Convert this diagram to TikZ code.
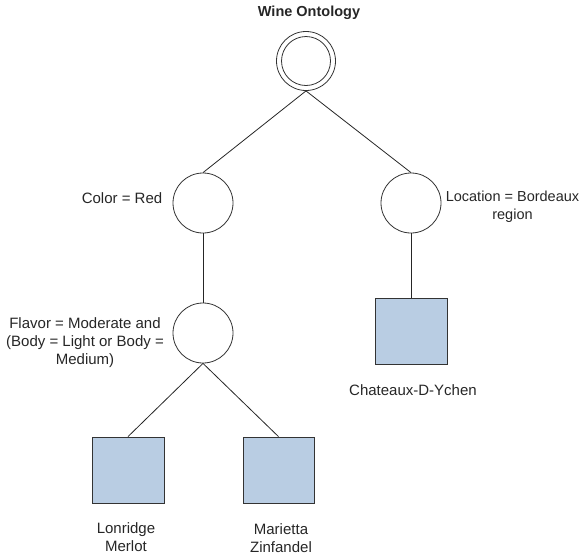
\documentclass[tikz,border=0pt]{standalone}
\usepackage{fontspec}
\setmainfont{Liberation Sans}
\begin{document}
\begin{tikzpicture}[x=1pt,y=-1pt,
  every node/.style={font=\fontsize{15}{18}\selectfont, text=black!85},
  link/.style={draw=black!85, line width=0.8pt},
  decision/.style={circle, draw=black!80, line width=0.8pt, fill=white, minimum size=60pt, inner sep=0pt},
  leaf/.style={rectangle, draw=black!80, line width=0.8pt, fill=leafblue, minimum width=72pt, minimum height=66pt, inner sep=0pt},
  caption/.style={align=center, inner sep=0pt}]
  \definecolor{leafblue}{HTML}{B9CDE3}
  \useasboundingbox (0,0) rectangle (581,558);

  % title and root of the tree
  \node[font=\fontsize{14.5}{18}\selectfont\bfseries, inner sep=0pt] (title) at (309,13) {Wine Ontology};
  \node[decision, minimum size=59pt] (root) at (306,61) {};
  \draw[black!80, line width=0.8pt] (root.center) circle[radius=24.5];

  % decision nodes
  \node[decision] (color) at (203,203) {};
  \node[decision] (location) at (411,203) {};
  \node[decision] (flavor) at (203,333) {};

  % wines
  \node[leaf] (chateaux) at (411,331.5) {};
  \node[leaf] (lonridge) at (128,470) {};
  \node[leaf, minimum width=71pt] (marietta) at (278.5,470) {};

  % labels
  \node[caption] (colorlbl) at (122,198) {Color = Red};
  \node[caption, font=\fontsize{14.5}{18}\selectfont] (locationlbl) at (512.5,207) {Location = Bordeaux\\region};
  \node[caption] (flavorlbl) at (85,343) {Flavor = Moderate and\\(Body = Light or Body =\\Medium)};
  \node[caption] (chateauxlbl) at (413,390) {Chateaux-D-Ychen};
  \node[caption] (lonridgelbl) at (126,537) {Lonridge\\Merlot};
  \node[caption] (mariettalbl) at (281,538) {Marietta\\Zinfandel};

  % connectors
  \draw[link] (root.south) -- (color.north);
  \draw[link] (root.south) -- (location.north);
  \draw[link] (color.south) -- (flavor.north);
  \draw[link] (location.south) -- (chateaux.north);
  \draw[link] (flavor.south) -- (lonridge.north);
  \draw[link] (flavor.south) -- (marietta.north);
\end{tikzpicture}
\end{document}
